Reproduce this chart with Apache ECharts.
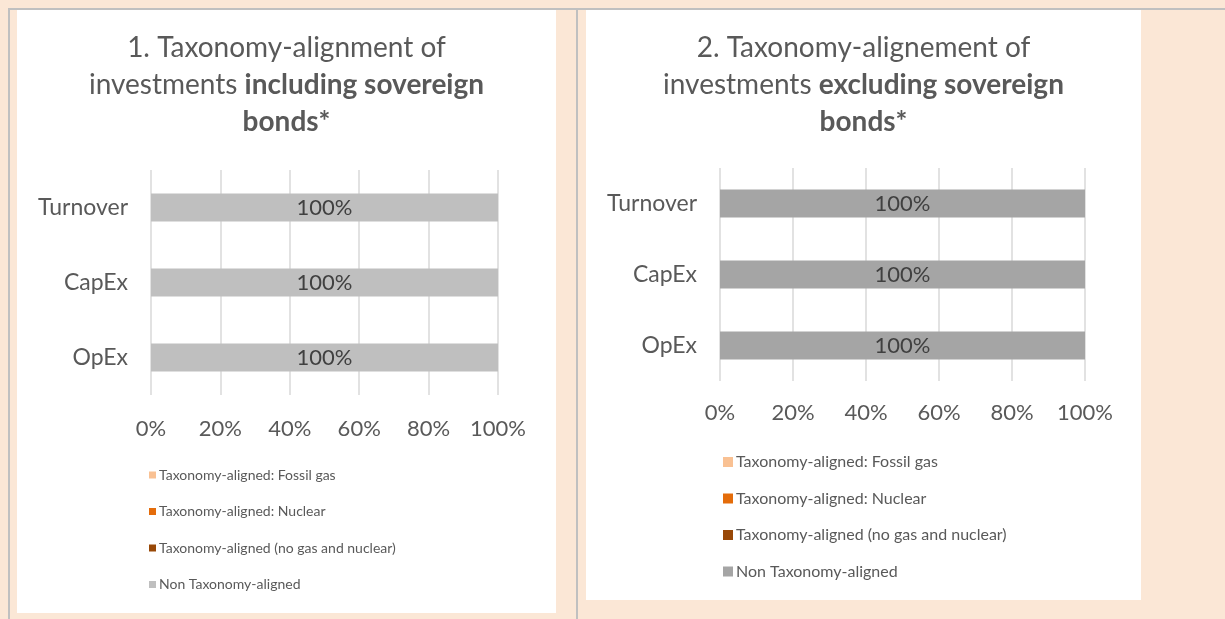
<!DOCTYPE html>
<html>
<head>
<meta charset="utf-8">
<script src="https://cdn.jsdelivr.net/npm/echarts@6/dist/echarts.min.js"></script>
<style>
  html,body{margin:0;padding:0;width:1225px;height:619px;background:#FBE7D6;overflow:hidden;}
  .hline{position:absolute;left:8px;top:8px;width:1217px;height:2px;background:#C0C0C0;}
  .vline{position:absolute;top:8px;width:2px;height:611px;background:#C0C0C0;}
  .panel{position:absolute;background:#FFFFFF;}
</style>
</head>
<body>
<div class="hline"></div>
<div class="vline" style="left:8px"></div>
<div class="vline" style="left:576px"></div>
<div id="c1" class="panel" style="left:17px;top:10px;width:539px;height:603px;"></div>
<div id="c2" class="panel" style="left:586px;top:10px;width:555px;height:590px;"></div>
<script>
// ---- data ----
const categories = ['Turnover', 'CapEx', 'OpEx'];
const seriesNames = [
  'Taxonomy-aligned: Fossil gas',
  'Taxonomy-aligned: Nuclear',
  'Taxonomy-aligned (no gas and nuclear)',
  'Non Taxonomy-aligned'
];
// Chart 1: including sovereign bonds
const incFossilGas = [0, 0, 0];
const incNuclear = [0, 0, 0];
const incAligned = [0, 0, 0];
const incNonAligned = [100, 100, 100];
// Chart 2: excluding sovereign bonds
const excFossilGas = [0, 0, 0];
const excNuclear = [0, 0, 0];
const excAligned = [0, 0, 0];
const excNonAligned = [100, 100, 100];
const xTicks = [0, 20, 40, 60, 80, 100];

const FONT = 'Lato, "Open Sans", sans-serif';
const TXT = '#595959';

function buildOption(cfg) {
  const values = [cfg.fossil, cfg.nuclear, cfg.aligned, cfg.non];
  const colors = ['#F9C193', '#E46C0A', '#984807', cfg.grey];
  return {
    animation: false,
    textStyle: {fontFamily: FONT},
    graphic: [{
      type: 'text',
      left: 'center',
      top: 19,
      style: {
        text: cfg.titleLines,
        align: 'center',
        fill: TXT,
        font: '28px ' + FONT,
        lineHeight: 37,
        rich: {
          n: {fontFamily: FONT, fontSize: 28, fill: TXT, fontWeight: 'normal', lineHeight: 37, align: 'center'},
          b: {fontFamily: FONT, fontSize: 28, fill: TXT, fontWeight: 'bold', lineHeight: 37, align: 'center'}
        }
      }
    }],
    grid: {left: cfg.gridLeft, right: cfg.gridRight, top: cfg.gridTop, height: cfg.gridHeight, containLabel: false},
    xAxis: {
      type: 'value', min: 0, max: 100, interval: 20,
      axisLine: {show: false}, axisTick: {show: false},
      splitLine: {show: true, lineStyle: {color: '#D9D9D9', width: 1.5}},
      axisLabel: {formatter: v => v + '%', color: TXT, fontSize: 22, fontFamily: FONT, margin: cfg.xMargin}
    },
    yAxis: {
      type: 'category', data: categories, inverse: true,
      axisLine: {show: false}, axisTick: {show: false},
      axisLabel: {color: TXT, fontSize: 23, fontFamily: FONT, margin: 23}
    },
    legend: {
      orient: 'vertical', left: cfg.legendLeft, top: cfg.legendTop,
      itemWidth: cfg.iconSize, itemHeight: cfg.iconSize, itemGap: cfg.legendGap,
      icon: 'rect',
      textStyle: {color: TXT, fontSize: cfg.legendFont, fontFamily: FONT, padding: [0, 0, 0, -2]},
      data: seriesNames
    },
    series: seriesNames.map((name, i) => ({
      name: name, type: 'bar', stack: 'total',
      data: values[i], barWidth: 28,
      itemStyle: {color: colors[i]},
      label: {
        show: i === 3, position: 'inside', color: '#404040', fontSize: 22, fontFamily: FONT,
        formatter: p => p.value > 0 ? p.value + '%' : ''
      }
    }))
  };
}

const c1 = echarts.init(document.getElementById('c1'));
c1.setOption(buildOption({
  titleLines: '{n|1. Taxonomy-alignment of}\n{n|investments }{b|including sovereign}\n{b|bonds*}',
  fossil: incFossilGas, nuclear: incNuclear, aligned: incAligned, non: incNonAligned,
  grey: '#BFBFBF',
  gridLeft: 134, gridRight: 58, gridTop: 160, gridHeight: 225, xMargin: 23,
  legendLeft: 127, legendTop: 453, iconSize: 7, legendGap: 22.5, legendFont: 14
}));

const c2 = echarts.init(document.getElementById('c2'));
c2.setOption(buildOption({
  titleLines: '{n|2. Taxonomy-alignement of}\n{n|investments }{b|excluding sovereign}\n{b|bonds*}',
  fossil: excFossilGas, nuclear: excNuclear, aligned: excAligned, non: excNonAligned,
  grey: '#A5A5A5',
  gridLeft: 134, gridRight: 56, gridTop: 158, gridHeight: 213, xMargin: 21,
  legendLeft: 132, legendTop: 439, iconSize: 10, legendGap: 20.5, legendFont: 16
}));
</script>
</body>
</html>
